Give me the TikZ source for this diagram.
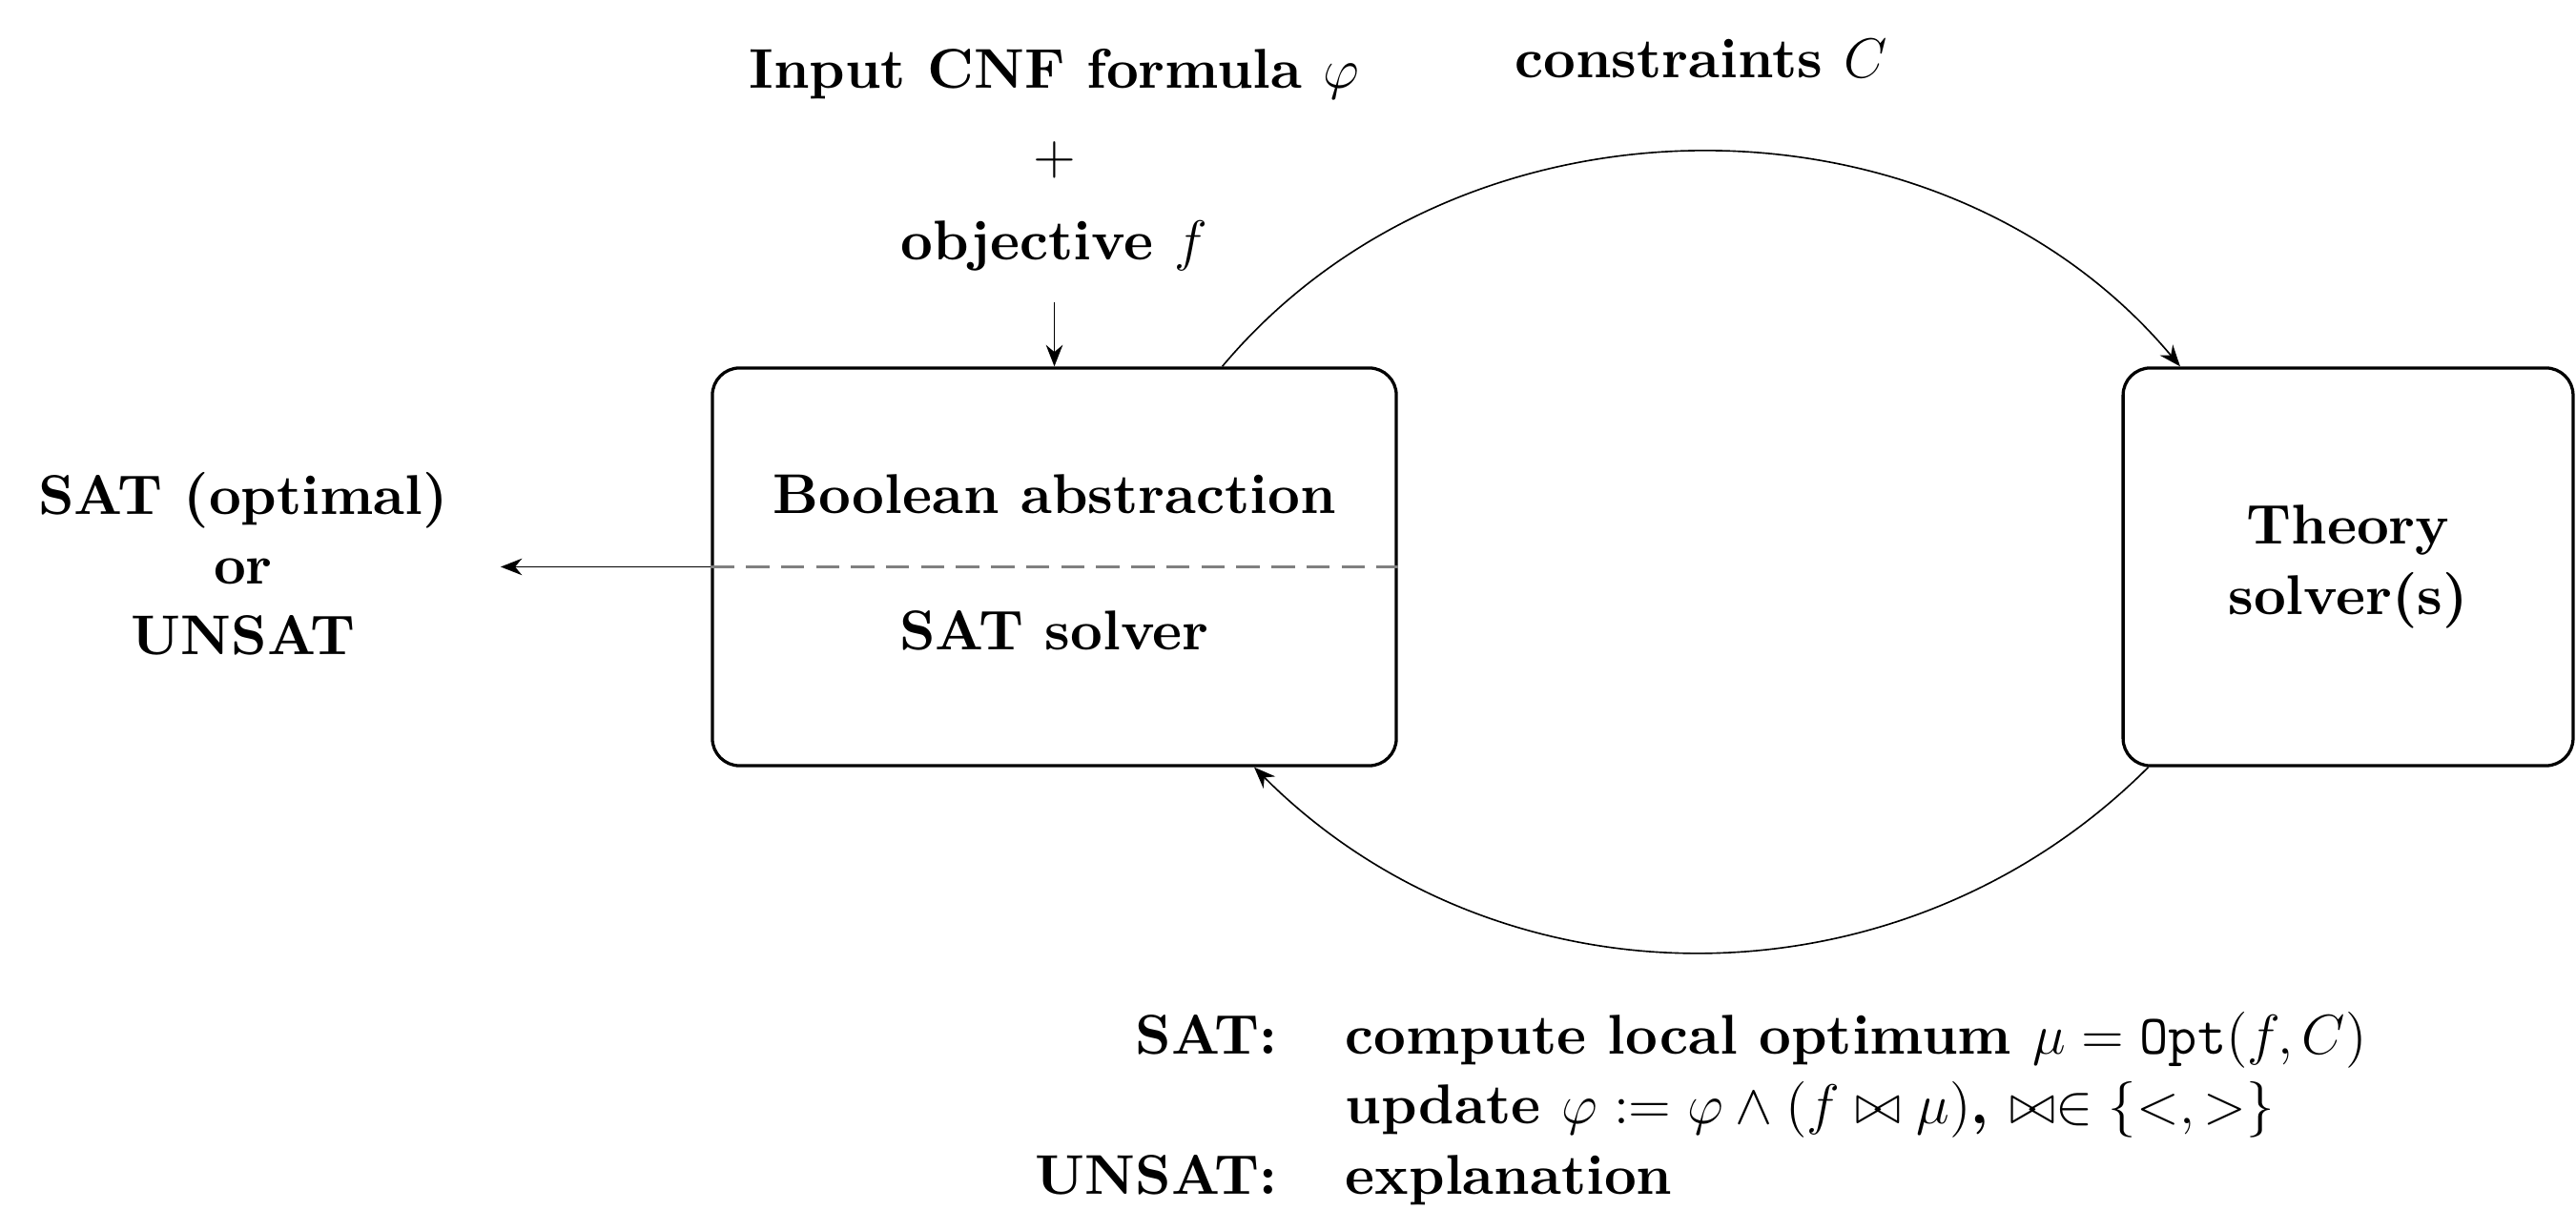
\documentclass[tikz,border=0pt]{standalone}
\usepackage{fontspec}
\setmainfont{lmroman10}[Extension=.otf, UprightFont=*-regular, BoldFont=*-bold]
\usepackage{tikz}
\usetikzlibrary{arrows.meta, positioning}
\tikzstyle{loop}=[>={Stealth[length=5.5pt, width=4.3pt]}, x=24.5pt, y=24.5pt, font=\Large\bfseries]
\tikzstyle{solver}=[draw, thick, rounded corners=7pt, align=center]
\tikzstyle{split}=[gray, semithick, dash pattern=on 6pt off 3pt]

\begin{document}
\begin{tikzpicture}[loop]
  \useasboundingbox (0,0) rectangle (27.01,12.69);
  \node[solver, minimum width=175.7pt, minimum height=102.2pt] (sat) at (11.055,6.745) {};
  \node[solver, minimum width=115.6pt, minimum height=102.2pt] (th) at (24.62,6.745) {Theory\\solver(s)};
  \node (abs) at (11.055,7.51) {Boolean abstraction};
  \node (sol) at (11.055,6.08) {SAT solver};
  \node[align=center] (res) at (2.55,6.78) {SAT (optimal)\\or\\UNSAT};
  \node[align=center, above=21pt of sat] (in) {Input CNF formula $\varphi$\\[4pt]$+$\\[4pt]objective $f$};
  \draw[split] (sat.west) -- (sat.east);
  \path[->] (in) edge[shorten <=4.5pt] (sat);
  \path[->] (sat.west) edge[shorten >=10pt] (res.east |- sat.west);
  \path[->] (sat) edge[bend left=50] node[above=15.5pt] {constraints $C$} (th);
  \path[->] (th) edge[bend left=45] node[below=10pt] {%
    \begin{tabular}{@{}r@{\hspace{17.5pt}}l@{}}
      SAT:   & compute local optimum $\mu = \mathtt{Opt}(f,C)$\\
             & update $\varphi := \varphi \wedge (f \bowtie \mu)$, $\bowtie\in\{<,>\}$\\
      UNSAT: & explanation
    \end{tabular}} (sat);
\end{tikzpicture}
\end{document}
